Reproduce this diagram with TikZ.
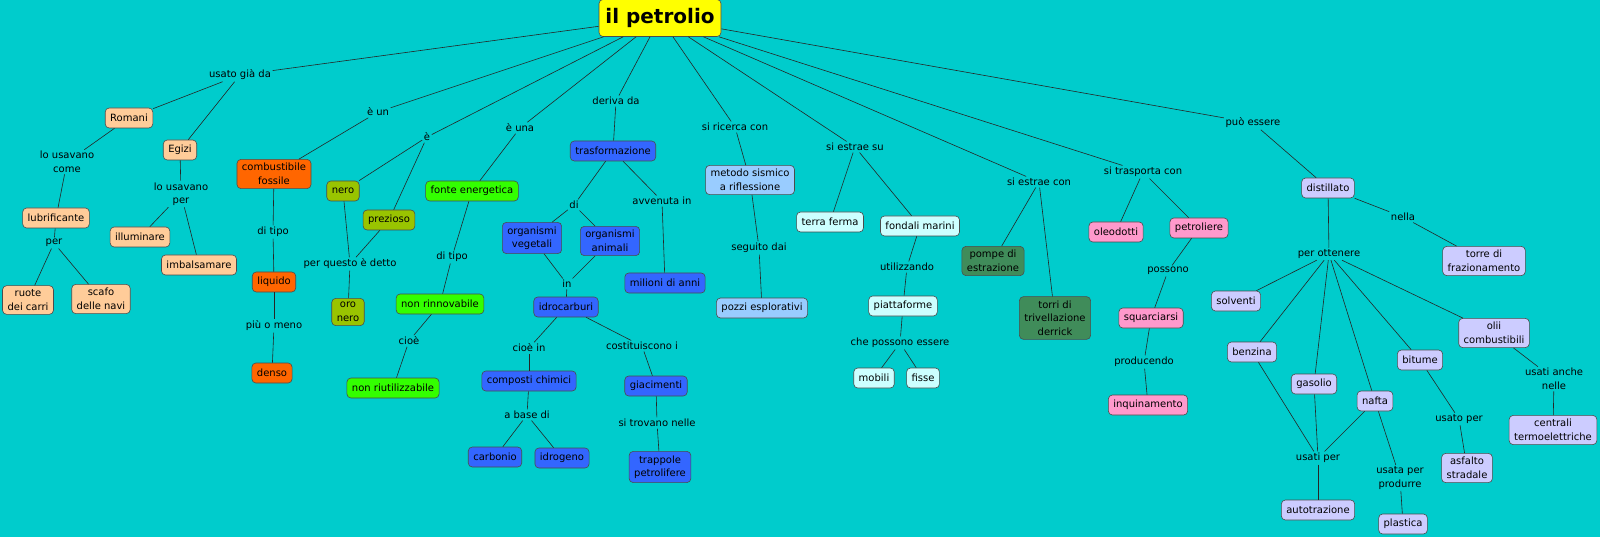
\documentclass[tikz,border=0pt]{standalone}
\usepackage{fontspec}
\setmainfont{DejaVu Sans}
\definecolor{bg}{RGB}{0,204,204}
\definecolor{cyel}{RGB}{255,255,0}
\definecolor{cpeach}{RGB}{255,204,153}
\definecolor{corange}{RGB}{255,102,0}
\definecolor{colive}{RGB}{153,196,0}
\definecolor{cgreen}{RGB}{51,255,0}
\definecolor{cblue}{RGB}{51,102,255}
\definecolor{clblue}{RGB}{153,204,255}
\definecolor{cpcyan}{RGB}{204,255,255}
\definecolor{cdgreen}{RGB}{64,140,90}
\definecolor{cpink}{RGB}{255,153,204}
\definecolor{clav}{RGB}{204,204,255}
\begin{document}
\begin{tikzpicture}[x=1pt,y=-1pt,
  every node/.style={font=\fontsize{10}{13.5}\selectfont},
  box/.style={draw=black!70, rounded corners=4pt, inner xsep=5pt, inner ysep=4pt,
    minimum height=20pt, align=center, line width=0.6pt},
  lab/.style={inner sep=1.5pt, align=center},
  conn/.style={line width=0.6pt, draw=black!85}]
\fill[bg] (0,0) rectangle (1600,537);
\useasboundingbox (0,0) rectangle (1600,537);
% root
\node[box, fill=cyel, font=\fontsize{20}{22}\bfseries, inner ysep=5pt, minimum height=37pt, minimum width=122pt] (root) at (660,18) {il petrolio};
% left: usato gia da
\node[lab] (usato) at (240,75) {usato già da};
\node[box, fill=cpeach] (romani) at (129,118) {Romani};
\node[box, fill=cpeach] (egizi) at (180,150) {Egizi};
\node[lab] (locome) at (67,162) {lo usavano\\come};
\node[box, fill=cpeach] (lubr) at (56,218) {lubrificante};
\node[lab] (per1) at (54,243) {per};
\node[box, fill=cpeach] (ruote) at (28,300) {ruote\\dei carri};
\node[box, fill=cpeach] (scafo) at (101,299) {scafo\\delle navi};
\node[lab] (loper) at (181,194) {lo usavano\\per};
\node[box, fill=cpeach] (illum) at (140,237) {illuminare};
\node[box, fill=cpeach] (imbal) at (199,265) {imbalsamare};
% e un
\node[lab] (eun) at (378,112) {è un};
\node[box, fill=corange] (comb) at (274,174) {combustibile\\fossile};
\node[lab] (ditipo1) at (273,232) {di tipo};
\node[box, fill=corange] (liquido) at (274,282) {liquido};
\node[lab] (piuomeno) at (274,326) {più o meno};
\node[box, fill=corange] (denso) at (272,373) {denso};
% e
\node[lab] (elab) at (427,137) {è};
\node[box, fill=colive] (nero) at (343,191) {nero};
\node[box, fill=colive] (prez) at (389,220) {prezioso};
\node[lab] (perquesto) at (350,264) {per questo è detto};
\node[box, fill=colive] (oronero) at (348,312) {oro\\nero};
% e una
\node[lab] (euna) at (520,128) {è una};
\node[box, fill=cgreen] (fonte) at (472,191) {fonte energetica};
\node[lab] (ditipo2) at (452,257) {di tipo};
\node[box, fill=cgreen] (nonrinn) at (440,304) {non rinnovabile};
\node[lab] (cioe) at (409,341) {cioè};
\node[box, fill=cgreen] (nonriut) at (393,388) {non riutilizzabile};
% deriva da
\node[lab] (deriva) at (616,101) {deriva da};
\node[box, fill=cblue] (trasf) at (613,151) {trasformazione};
\node[lab] (dilab) at (574,205) {di};
\node[lab] (avvenuta) at (662,201) {avvenuta in};
\node[box, fill=cblue] (orgveg) at (532,238) {organismi\\vegetali};
\node[box, fill=cblue] (organ) at (610,241) {organismi\\animali};
\node[lab] (inlab) at (567,284) {in};
\node[box, fill=cblue] (milioni) at (665,283) {milioni di anni};
\node[box, fill=cblue] (idro) at (566,307) {idrocarburi};
\node[lab] (cioein) at (529,348) {cioè in};
\node[lab] (cost) at (642,346) {costituiscono i};
\node[box, fill=cblue] (composti) at (529,381) {composti chimici};
\node[lab] (abase) at (527,415) {a base di};
\node[box, fill=cblue] (carb) at (495,457) {carbonio};
\node[box, fill=cblue] (idrog) at (562,458) {idrogeno};
\node[box, fill=cblue] (giac) at (656,386) {giacimenti};
\node[lab] (sitrovano) at (657,423) {si trovano nelle};
\node[box, fill=cblue] (trappole) at (660,467) {trappole\\petrolifere};
% si ricerca con
\node[lab] (ricerca) at (735,127) {si ricerca con};
\node[box, fill=clblue] (metodo) at (750,180) {metodo sismico\\a riflessione};
\node[lab] (seguito) at (759,248) {seguito dai};
\node[box, fill=clblue] (pozzi) at (762,308) {pozzi esplorativi};
% si estrae su
\node[lab] (estraesu) at (855,147) {si estrae su};
\node[box, fill=cpcyan] (terra) at (830,222) {terra ferma};
\node[box, fill=cpcyan] (fondali) at (920,226) {fondali marini};
\node[lab] (utilizz) at (907,267) {utilizzando};
\node[box, fill=cpcyan] (piatt) at (903,306) {piattaforme};
\node[lab] (chepossono) at (900,343) {che possono essere};
\node[box, fill=cpcyan] (mobili) at (874,378) {mobili};
\node[box, fill=cpcyan] (fisse) at (923,378) {fisse};
% si estrae con
\node[lab] (estraecon) at (1039,182) {si estrae con};
\node[box, fill=cdgreen] (pompe) at (993,261) {pompe di\\estrazione};
\node[box, fill=cdgreen] (torri) at (1055,318) {torri di\\trivellazione\\derrick};
% si trasporta con
\node[lab] (trasporta) at (1143,172) {si trasporta con};
\node[box, fill=cpink] (oleo) at (1116,232) {oleodotti};
\node[box, fill=cpink] (petrol) at (1199,228) {petroliere};
\node[lab] (possono) at (1168,271) {possono};
\node[box, fill=cpink] (squarc) at (1151,318) {squarciarsi};
\node[lab] (producendo) at (1144,362) {producendo};
\node[box, fill=cpink] (inquin) at (1148,405) {inquinamento};
% puo essere
\node[lab] (puoessere) at (1253,123) {può essere};
\node[box, fill=clav] (distill) at (1328,188) {distillato};
\node[lab] (nella) at (1403,217) {nella};
\node[box, fill=clav] (torre) at (1484,261) {torre di\\frazionamento};
\node[lab] (perott) at (1329,254) {per ottenere};
\node[box, fill=clav] (solventi) at (1236,301) {solventi};
\node[box, fill=clav] (benzina) at (1252,352) {benzina};
\node[box, fill=clav] (gasolio) at (1314,384) {gasolio};
\node[box, fill=clav] (nafta) at (1375,401) {nafta};
\node[box, fill=clav] (bitume) at (1420,360) {bitume};
\node[box, fill=clav] (olii) at (1494,333) {olii\\combustibili};
\node[lab] (usatianche) at (1554,379) {usati anche\\nelle};
\node[box, fill=clav] (centrali) at (1553,430) {centrali\\termoelettriche};
\node[lab] (usatiper) at (1318,458) {usati per};
\node[box, fill=clav] (autotraz) at (1318,510) {autotrazione};
\node[lab] (usataper) at (1400,478) {usata per\\produrre};
\node[box, fill=clav] (plastica) at (1403,524) {plastica};
\node[lab] (usatoper) at (1459,419) {usato per};
\node[box, fill=clav] (asfalto) at (1467,468) {asfalto\\stradale};
% connectors
\foreach \a/\b in {root/usato, usato/romani, usato/egizi, romani/locome, locome/lubr, lubr/per1, per1/ruote, per1/scafo,
  egizi/loper, loper/illum, loper/imbal,
  root/eun, eun/comb, comb/ditipo1, ditipo1/liquido, liquido/piuomeno, piuomeno/denso,
  root/elab, elab/nero, elab/prez, nero/perquesto, prez/perquesto, perquesto/oronero,
  root/euna, euna/fonte, fonte/ditipo2, ditipo2/nonrinn, nonrinn/cioe, cioe/nonriut,
  root/deriva, deriva/trasf, trasf/dilab, dilab/orgveg, dilab/organ, trasf/avvenuta, avvenuta/milioni,
  orgveg/inlab, organ/inlab, inlab/idro, idro/cioein, cioein/composti, composti/abase, abase/carb, abase/idrog,
  idro/cost, cost/giac, giac/sitrovano, sitrovano/trappole,
  root/ricerca, ricerca/metodo, metodo/seguito, seguito/pozzi,
  root/estraesu, estraesu/terra, estraesu/fondali, fondali/utilizz, utilizz/piatt, piatt/chepossono, chepossono/mobili, chepossono/fisse,
  root/estraecon, estraecon/pompe, estraecon/torri,
  root/trasporta, trasporta/oleo, trasporta/petrol, petrol/possono, possono/squarc, squarc/producendo, producendo/inquin,
  root/puoessere, puoessere/distill, distill/nella, nella/torre, distill/perott,
  perott/solventi, perott/benzina, perott/gasolio, perott/nafta, perott/bitume, perott/olii,
  benzina/usatiper, gasolio/usatiper, nafta/usatiper, usatiper/autotraz, nafta/usataper, usataper/plastica,
  bitume/usatoper, usatoper/asfalto, olii/usatianche, usatianche/centrali}
  \draw[conn] (\a) -- (\b);
\end{tikzpicture}
\end{document}
